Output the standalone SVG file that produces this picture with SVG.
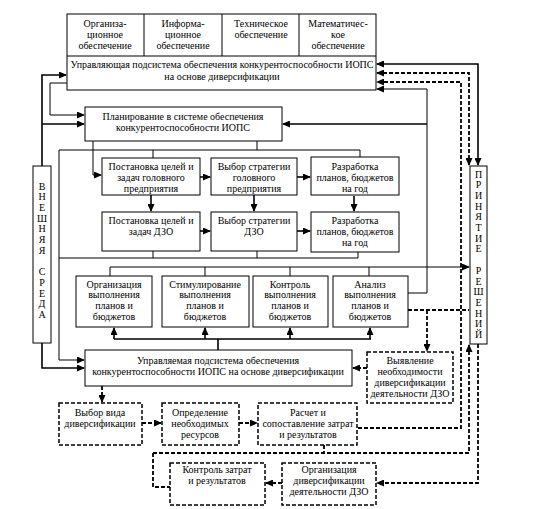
<svg xmlns="http://www.w3.org/2000/svg" width="539" height="509" viewBox="0 0 539 509">
<style>
.box{fill:#fff;stroke:#000;stroke-width:1}
.dbox{fill:#fff;stroke:#000;stroke-width:1.5;stroke-dasharray:4 2}
.ln{fill:none;stroke:#000;stroke-width:1}
.th{fill:none;stroke:#000;stroke-width:1.6}
.ds{fill:none;stroke:#000;stroke-width:1.8;stroke-dasharray:4 2}
text{font-family:"Liberation Serif","Times New Roman",serif;font-size:10px;text-anchor:middle;fill:#000}
</style>
<defs>
<marker id="a" markerWidth="8" markerHeight="7" refX="7" refY="3.5" orient="auto-start-reverse" markerUnits="userSpaceOnUse">
<path d="M0,0 L8,3.5 L0,7 z" fill="#000"/>
</marker>
</defs>
<rect width="539" height="509" fill="#fff"/>
<g id="connectors">
<path class="th" d="M42,166 V75 H66" marker-end="url(#a)"/>
<path class="th" d="M42,124 H84" marker-end="url(#a)"/>
<path class="ln" d="M67,83 H50 V115 H84" marker-end="url(#a)"/>
<path class="th" d="M42,343 V368 H84" marker-end="url(#a)"/>
<path class="ln" d="M360,157 V150 H59 V360 H84" marker-end="url(#a)"/>
<path class="ln" d="M257,141 V150 M153,150 V158"/>
<path class="ln" d="M93,141 V175 H101" marker-end="url(#a)"/>
<path class="th" d="M200,177 H210" marker-end="url(#a)"/>
<path class="th" d="M297,177 H310" marker-end="url(#a)"/>
<path class="th" d="M200,231 H210" marker-end="url(#a)"/>
<path class="th" d="M297,231 H310" marker-end="url(#a)"/>
<path class="th" d="M151,195 V211" marker-end="url(#a)"/>
<path class="th" d="M254,195 V211" marker-end="url(#a)"/>
<path class="th" d="M354,196 V211" marker-end="url(#a)"/>
<path class="ln" d="M153,251 V258 M257,251 V258 M358,252 V258 M59,258 H358"/>
<path class="ln" d="M110,276 V267 H469" marker-end="url(#a)"/>
<path class="ln" d="M205,267 V276 M290,267 V276 M369,267 V276"/>
<path class="th" d="M218,350 V339 M114,339 H371"/>
<path class="th" d="M114,339 V328" marker-end="url(#a)"/>
<path class="th" d="M205,339 V328" marker-end="url(#a)"/>
<path class="th" d="M290,339 V328" marker-end="url(#a)"/>
<path class="th" d="M370,339 V328" marker-end="url(#a)"/>
<path class="ln" d="M408,293 H427 V89 H377" marker-end="url(#a)"/>
<path class="th" d="M427,124 H283" marker-end="url(#a)"/>
<path class="th" d="M377,64 H478 V165" marker-start="url(#a)" marker-end="url(#a)"/>
<path class="ds" d="M377,73 H469 V165" marker-start="url(#a)" marker-end="url(#a)"/>
<path class="ds" d="M358,428 H461 V82 H377" marker-end="url(#a)"/>
<path class="ds" d="M408,310 H469"/>
<path class="ds" d="M427,310 V351" marker-end="url(#a)"/>
<path class="ds" d="M367,368 H353" marker-end="url(#a)"/>
<path class="ds" d="M102,386 V402" marker-end="url(#a)"/>
<path class="ds" d="M142,423 H161" marker-end="url(#a)"/>
<path class="ds" d="M239,423 H257" marker-end="url(#a)"/>
<path class="ds" d="M324,445 V453 M153,453 V487 H170"/>
<path class="ds" d="M153,453 H469 V345" marker-end="url(#a)"/>
<path class="ds" d="M478,344 V483 H377" marker-end="url(#a)"/>
<path class="ds" d="M282,483 H266" marker-end="url(#a)"/>
</g>
<g id="top">
<rect class="box" x="67" y="14" width="309" height="76"/>
<path class="ln" d="M67,56 H376 M144,14 V56 M222,14 V56 M299,14 V56"/>
<text x="105" y="27">Организа-</text><text x="105" y="38">ционное</text><text x="105" y="49">обеспечение</text>
<text x="183" y="27">Информа-</text><text x="183" y="38">ционное</text><text x="183" y="49">обеспечение</text>
<text x="261" y="27">Техническое</text><text x="261" y="38">обеспечение</text>
<text x="338" y="27">Математичес-</text><text x="338" y="38">кое</text><text x="338" y="49">обеспечение</text>
<text x="222" y="67.5">Управляющая подсистема обеспечения  конкурентоспособности ИОПС</text>
<text x="222" y="79.5">на основе диверсификации</text>
</g>
<g id="plan">
<rect class="box" x="85" y="107" width="197" height="34"/>
<text x="183" y="119.5">Планирование в системе обеспечения</text>
<text x="183" y="130.5">конкурентоспособности ИОПС</text>
</g>
<g id="goals-head">
<rect class="box" x="102" y="158" width="98" height="37"/>
<text x="151" y="169.5">Постановка целей и</text><text x="151" y="181">задач головного</text><text x="151" y="192">предприятия</text>
</g>
<g id="strategy-head">
<rect class="box" x="211" y="158" width="86" height="37"/>
<text x="254" y="169.5">Выбор стратегии</text><text x="254" y="181">головного</text><text x="254" y="192">предприятия</text>
</g>
<g id="plans-head">
<rect class="box" x="311" y="157" width="88" height="38"/>
<text x="355" y="169.5">Разработка</text><text x="355" y="181">планов, бюджетов</text><text x="355" y="192">на год</text>
</g>
<g id="goals-dzo">
<rect class="box" x="102" y="212" width="98" height="39"/>
<text x="151" y="223.5">Постановка целей и</text><text x="151" y="235">задач ДЗО</text>
</g>
<g id="strategy-dzo">
<rect class="box" x="211" y="212" width="86" height="39"/>
<text x="254" y="223.5">Выбор стратегии</text><text x="254" y="235">ДЗО</text>
</g>
<g id="plans-dzo">
<rect class="box" x="311" y="212" width="88" height="40"/>
<text x="355" y="223.5">Разработка</text><text x="355" y="235">планов, бюджетов</text><text x="355" y="245.5">на год</text>
</g>
<g id="org">
<rect class="box" x="76" y="276" width="76" height="51"/>
<text x="114" y="287.5">Организация</text><text x="114" y="298">выполнения</text><text x="114" y="309">планов и</text><text x="114" y="320">бюджетов</text>
</g>
<g id="stim">
<rect class="box" x="162" y="276" width="87" height="51"/>
<text x="205" y="287.5">Стимулирование</text><text x="205" y="298">выполнения</text><text x="205" y="309">планов и</text><text x="205" y="320">бюджетов</text>
</g>
<g id="ctrl">
<rect class="box" x="253" y="276" width="75" height="51"/>
<text x="290" y="287.5">Контроль</text><text x="290" y="298">выполнения</text><text x="290" y="309">планов и</text><text x="290" y="320">бюджетов</text>
</g>
<g id="anal">
<rect class="box" x="333" y="276" width="75" height="51"/>
<text x="370" y="287.5">Анализ</text><text x="370" y="298">выполнения</text><text x="370" y="309">планов и</text><text x="370" y="320">бюджетов</text>
</g>
<g id="env">
<rect class="box" x="33" y="166" width="18" height="177"/>
<text x="42" y="189.5">В</text><text x="42" y="200.2">Н</text><text x="42" y="210.9">Е</text><text x="42" y="221.6">Ш</text><text x="42" y="232.3">Н</text><text x="42" y="243">Я</text><text x="42" y="253.7">Я</text>
<text x="42" y="275.1">С</text><text x="42" y="285.8">Р</text><text x="42" y="296.5">Е</text><text x="42" y="307.2">Д</text><text x="42" y="317.9">А</text>
</g>
<g id="decision">
<rect class="box" x="470" y="166" width="17" height="178"/>
<text x="478.5" y="177.5">П</text><text x="478.5" y="188.2">Р</text><text x="478.5" y="198.9">И</text><text x="478.5" y="209.6">Н</text><text x="478.5" y="220.3">Я</text><text x="478.5" y="231">Т</text><text x="478.5" y="241.7">И</text><text x="478.5" y="252.4">Е</text>
<text x="478.5" y="273.8">Р</text><text x="478.5" y="284.5">Е</text><text x="478.5" y="295.2">Ш</text><text x="478.5" y="305.9">Е</text><text x="478.5" y="316.6">Н</text><text x="478.5" y="327.3">И</text><text x="478.5" y="338">Й</text>
</g>
<g id="managed">
<rect class="box" x="85" y="350" width="267" height="36"/>
<text x="218" y="363.5">Управляемая подсистема обеспечения</text>
<text x="218" y="375">конкурентоспособности ИОПС на основе диверсификации</text>
</g>
<g id="reveal">
<rect class="dbox" x="367" y="352" width="86" height="51"/>
<text x="410" y="363.5">Выявление</text><text x="410" y="374.5">необходимости</text><text x="410" y="385.5">диверсификации</text><text x="410" y="396.5">деятельности ДЗО</text>
</g>
<g id="choice">
<rect class="dbox" x="59" y="403" width="83" height="42"/>
<text x="100" y="415.5">Выбор вида</text><text x="100" y="426.5">диверсификации</text>
</g>
<g id="resources">
<rect class="dbox" x="162" y="403" width="77" height="42"/>
<text x="200" y="415.5">Определение</text><text x="200" y="426.5">необходимых</text><text x="200" y="437.5">ресурсов</text>
</g>
<g id="calc">
<rect class="dbox" x="258" y="403" width="99" height="42"/>
<text x="308" y="415.5">Расчет и</text><text x="308" y="426.5">сопоставление затрат</text><text x="308" y="437.5">и результатов</text>
</g>
<g id="costctrl">
<rect class="dbox" x="170" y="463" width="95" height="42"/>
<text x="217" y="472.5">Контроль затрат</text><text x="217" y="483.5">и результатов</text>
</g>
<g id="orgdiv">
<rect class="dbox" x="282" y="463" width="94" height="42"/>
<text x="329" y="472.5">Организация</text><text x="329" y="483.5">диверсификации</text><text x="329" y="495">деятельности ДЗО</text>
</g>
</svg>
